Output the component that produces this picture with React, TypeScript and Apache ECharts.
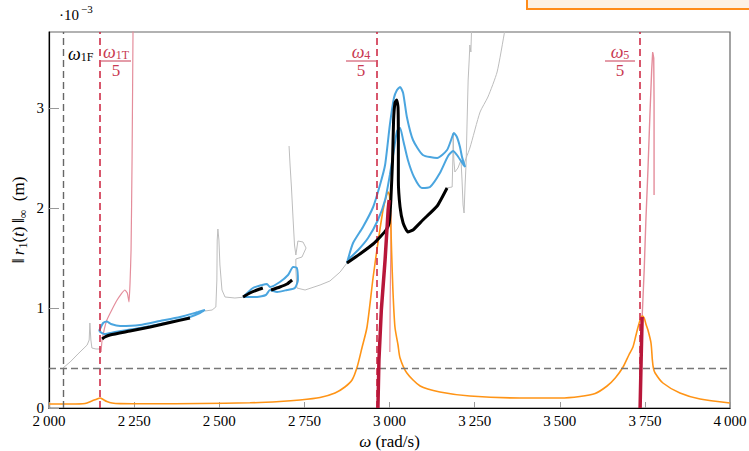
import React, { useEffect, useRef } from "react";
import * as echarts from "echarts";

// ---- data (x: rad/s, y: units of 1e-3 m) ----
const xTickValues = [2000, 2250, 2500, 2750, 3000, 3250, 3500, 3750, 4000];
const yTickValues = [0, 1, 2, 3];

const omega1F = 2041;
const modeFractions = [2150, 2963, 3736];
const threshold = 0.4;

const backboneA = [[2041,0.40],[2062,0.46],[2085,0.54],[2103,0.60],[2112,0.63],[2118,0.68],[2120,0.85],[2123,0.68],[2126,0.60],[2138,0.59],[2150,0.59]];
const backboneB = [[2458,0.97],[2479,0.98],[2490,1.01],[2493,1.28],[2494,1.68],[2496,1.79],[2499,1.68],[2502,1.43],[2508,1.18],[2517,1.11],[2546,1.10],[2576,1.11]];
const backboneC = [[2705,2.62],[2708,2.43],[2712,2.21],[2717,1.88],[2721,1.63],[2725,1.53],[2731,1.67],[2746,1.66],[2755,1.60],[2743,1.51],[2725,1.49],[2725,1.38],[2728,1.20],[2752,1.18],[2796,1.23],[2825,1.27],[2855,1.36],[2875,1.45]];
const backboneD = [[3166,2.20],[3184,2.21],[3186,2.48],[3187,2.75],[3189,2.48],[3192,2.36],[3201,2.40],[3210,2.48],[3213,2.28],[3216,2.03],[3219,1.95],[3222,2.23],[3225,2.45],[3228,2.88],[3231,3.28],[3234,3.48],[3236,3.63],[3239,3.56],[3242,3.90]];
const backboneE = [[3216,2.42],[3236,2.60],[3266,2.96],[3289,3.11],[3316,3.36],[3339,3.78],[3348,3.93]];

const unstableA = [[2153,0.56],[2156,0.68],[2170,0.88],[2200,1.08],[2223,1.18],[2230,1.15],[2235,1.06],[2238,1.25],[2241,1.58],[2244,2.5],[2247,3.9]];
const unstableB = [[3001,0.56],[3002,1.1],[3004,1.6],[3005,1.98]];
const unstableC = [[3742,0.91],[3748,1.38],[3753,1.88],[3759,2.38],[3765,2.95],[3770,3.38],[3773,3.56],[3776,3.50],[3777,3.08],[3777,2.13]];

const linearFRF = [[2000,0.04],[2062,0.04],[2106,0.045],[2126,0.07],[2141,0.09],[2150,0.10],[2159,0.085],[2170,0.065],[2185,0.05],[2209,0.044],[2297,0.042],[2443,0.045],[2590,0.052],[2678,0.065],[2737,0.08],[2796,0.105],[2840,0.15],[2869,0.21],[2890,0.28],[2905,0.41],[2919,0.60],[2934,0.81],[2952,1.31],[2966,1.65],[2981,1.98],[2990,2.11],[2996,2.16],[3000,2.12],[3003,1.93],[3006,1.58],[3010,1.18],[3016,0.81],[3025,0.63],[3031,0.50],[3051,0.35],[3090,0.22],[3148,0.16],[3236,0.12],[3383,0.10],[3501,0.10],[3559,0.115],[3604,0.145],[3639,0.22],[3663,0.30],[3686,0.41],[3703,0.53],[3715,0.61],[3724,0.73],[3730,0.81],[3736,0.88],[3742,0.92],[3748,0.90],[3753,0.84],[3759,0.78],[3768,0.65],[3772,0.48],[3775,0.40],[3780,0.35],[3803,0.25],[3853,0.15],[3912,0.09],[4000,0.05]];

const loop1Blue = [[2147,0.77],[2159,0.85],[2170,0.865],[2182,0.84],[2209,0.82],[2267,0.83],[2326,0.87],[2385,0.91],[2438,0.96],[2458,0.98],[2443,0.95],[2414,0.91],[2355,0.86],[2267,0.80],[2194,0.76],[2162,0.74],[2147,0.77]];
const loop1Black = [[2156,0.69],[2164,0.71],[2179,0.73],[2238,0.77],[2297,0.81],[2355,0.855],[2414,0.90]];
const loop2Blue = [[2570,1.11],[2599,1.20],[2626,1.23],[2640,1.24],[2649,1.21],[2678,1.26],[2702,1.33],[2717,1.41],[2728,1.40],[2731,1.28],[2722,1.20],[2699,1.18],[2670,1.16],[2649,1.18],[2637,1.13],[2611,1.11],[2570,1.11]];
const loop2BlackA = [[2570,1.11],[2590,1.15],[2611,1.18],[2628,1.20]];
const loop2BlackB = [[2652,1.18],[2678,1.21],[2699,1.24],[2714,1.28]];
const loop3Blue = [[2875,1.45],[2893,1.65],[2922,1.81],[2952,2.01],[2972,2.23],[2987,2.43],[3001,2.83],[3013,3.10],[3022,3.18],[3031,3.21],[3040,3.15],[3051,2.91],[3069,2.68],[3098,2.53],[3140,2.50],[3169,2.58],[3184,2.71],[3189,2.75],[3198,2.71],[3207,2.61],[3213,2.51],[3222,2.41],[3210,2.47],[3198,2.53],[3187,2.57],[3172,2.52],[3148,2.35],[3119,2.21],[3095,2.20],[3072,2.31],[3054,2.48],[3040,2.68],[3031,2.80],[3022,2.77],[3013,2.58],[3001,2.33],[2987,2.08],[2966,1.88],[2937,1.70],[2908,1.58],[2884,1.50],[2875,1.45]];
const loop3Black = [[2875,1.45],[2913,1.54],[2952,1.64],[2975,1.72],[2990,1.78],[2999,1.85],[3004,2.08],[3009,2.48],[3012,2.88],[3016,3.05],[3021,3.08],[3025,3.01],[3026,2.68],[3026,2.28],[3031,2.01],[3040,1.85],[3054,1.76],[3069,1.78],[3098,1.88],[3140,2.02],[3169,2.20]];

const resonanceA = [[2966,0],[2969,0.48],[2976,0.98],[2987,1.48],[2996,1.98],[2999,2.08]];
const resonanceB = [[3736,0],[3739,0.48],[3742,0.91]];

const FONT = "'Liberation Serif', 'DejaVu Serif', serif";
const RED = "#cc1f3d";
const RED_TXT = "#c93a52";

function line(data: number[][], color: string, width: number, z = 2, smooth: number | boolean = false) {
  return {
    type: "line",
    data,
    showSymbol: false,
    symbol: "none",
    smooth,
    lineStyle: { color, width },
    z,
    silent: true,
  };
}

function fmtX(v: number) {
  if (!xTickValues.includes(v)) return "";
  const th = Math.floor(v / 1000);
  const rest = String(v % 1000).padStart(3, "0");
  return th + "\u2009" + rest;
}

function fmtY(v: number) {
  return yTickValues.includes(v) ? String(v) : "";
}

const fracLabel = (cx: number, sub: string) => [
  {
    type: "text",
    x: cx,
    y: 52,
    style: {
      text: "{i|ω}{s|" + sub + "}",
      align: "center",
      verticalAlign: "middle",
      fill: RED_TXT,
      rich: {
        i: { fontFamily: FONT, fontStyle: "italic", fontSize: 18, fill: RED_TXT, lineHeight: 18 },
        s: { fontFamily: FONT, fontSize: 12, fill: RED_TXT, verticalAlign: "bottom", lineHeight: 12 },
      },
    },
  },
  { type: "line", shape: { x1: cx - 15, y1: 61, x2: cx + 15, y2: 61 }, style: { stroke: RED_TXT, lineWidth: 1 } },
  {
    type: "text",
    x: cx,
    y: 70,
    style: { text: "5", align: "center", verticalAlign: "middle", fill: RED_TXT, fontFamily: FONT, fontSize: 17 },
  },
];

export default function App() {
  const ref = useRef<HTMLDivElement>(null);
  useEffect(() => {
    document.body.style.margin = "0";
    const chart = echarts.init(ref.current!, null, { renderer: "svg" });
    const option: any = {
      animation: false,
      backgroundColor: "#ffffff",
      textStyle: { fontFamily: FONT },
      grid: {
        left: 49, right: 19, top: 32, bottom: 43,
        outerBoundsMode: "none",
        containLabel: false,
        show: true, borderColor: "#666", borderWidth: 1.2, backgroundColor: "transparent",
      },
      xAxis: {
        type: "value",
        min: 2000,
        max: 4000,
        interval: 250,
        axisLine: { show: true, onZero: false, lineStyle: { color: "#000", width: 1.2 } },
        axisTick: { show: true, inside: true, length: 6, lineStyle: { color: "#999" } },
        axisLabel: { margin: 6, color: "#000", fontFamily: FONT, fontSize: 15, lineHeight: 13, formatter: (v: number) => fmtX(v) },
        splitLine: { show: false },
        name: "{i|ω}{n| (rad/s)}",
        nameLocation: "middle",
        nameGap: 19,
        nameTextStyle: {
          fontFamily: FONT,
          fontSize: 17,
          rich: {
            i: { fontFamily: FONT, fontStyle: "italic", fontSize: 17, color: "#000", lineHeight: 18 },
            n: { fontFamily: FONT, fontSize: 17, color: "#000", lineHeight: 18 },
          },
        },
      },
      yAxis: {
        type: "value",
        min: 0,
        max: 3.76,
        interval: 1,
        axisLine: { show: true, onZero: false, lineStyle: { color: "#000", width: 1.2 } },
        axisTick: { show: true, inside: true, length: 10, lineStyle: { color: "#999" } },
        axisLabel: { margin: 5, color: "#000", fontFamily: FONT, fontSize: 15, lineHeight: 11, showMaxLabel: false, formatter: (v: number) => fmtY(v) },
        splitLine: { show: false },
      },
      series: [
        line(backboneA, "#bdbdbd", 1),
        line(backboneB, "#bdbdbd", 1),
        line(backboneC, "#bdbdbd", 1),
        line(backboneD, "#bdbdbd", 1),
        line(backboneE, "#bdbdbd", 1, 2, 0.2),
        line(unstableA, "#e48d9b", 1.2, 2, 0.15),
        line(unstableB, "#e48d9b", 1.2),
        line(unstableC, "#e48d9b", 1.4),
        line(linearFRF, "#ff9416", 1.6, 2, 0.25),
        {
          type: "line",
          data: [],
          z: 3,
          markLine: {
            silent: true,
            symbol: "none",
            label: { show: false },
            animation: false,
            data: [
              { xAxis: omega1F, lineStyle: { color: "#666", width: 1.4, type: [7, 4] } },
              ...modeFractions.map((f) => ({ xAxis: f, lineStyle: { color: RED, width: 1.5, type: [7, 4] } })),
              { yAxis: threshold, lineStyle: { color: "#777", width: 1.4, type: [7, 4] } },
            ],
          },
        },
        line(loop1Blue, "#4aa5df", 2, 4, 0.2),
        line(loop2Blue, "#4aa5df", 2, 4, 0.2),
        line(loop3Blue, "#4aa5df", 2, 4, 0.2),
        line(loop1Black, "#000", 3, 5, 0.2),
        line(loop2BlackA, "#000", 3, 5, 0.2),
        line(loop2BlackB, "#000", 3, 5, 0.2),
        line(loop3Black, "#000", 3, 5, 0.15),
        line(resonanceA, "#b8173a", 3.5, 6),
        line(resonanceB, "#b8173a", 3.5, 6),
      ],
      graphic: [
        {
          type: "rect",
          shape: { x: 527, y: -20, width: 240, height: 29 },
          style: { fill: "#fdf1e4", stroke: "#ff8c1a", lineWidth: 2 },
          z: 10,
        },
        { type: "text", x: 59, y: 15, style: { text: "·10", verticalAlign: "middle", fontFamily: FONT, fontSize: 15, fill: "#000" } },
        { type: "text", x: 81, y: 9, style: { text: "−3", verticalAlign: "middle", fontFamily: FONT, fontSize: 11, fill: "#000" } },
        {
          type: "text",
          x: 18,
          y: 220,
          rotation: Math.PI / 2,
          style: {
            text: "{n|‖\u2009}{i|r}{s|1}{n|(}{i|t}{n|)\u2009‖}{s|∞}{n|\u2002(m)}",
            align: "center",
            verticalAlign: "middle",
            rich: {
              n: { fontFamily: FONT, fontSize: 17, fill: "#000", lineHeight: 22 },
              i: { fontFamily: FONT, fontStyle: "italic", fontSize: 17, fill: "#000", lineHeight: 22 },
              s: { fontFamily: FONT, fontSize: 12, fill: "#000", verticalAlign: "bottom", lineHeight: 13 },
            },
          },
        },
        {
          type: "text",
          x: 68,
          y: 54,
          style: {
            text: "{i|ω}{s|1F}",
            verticalAlign: "middle",
            rich: {
              i: { fontFamily: FONT, fontStyle: "italic", fontSize: 18, fill: "#000", lineHeight: 18 },
              s: { fontFamily: FONT, fontSize: 12, fill: "#000", verticalAlign: "bottom", lineHeight: 12 },
            },
          },
        },
        ...fracLabel(116, "1T"),
        ...fracLabel(361, "4"),
        ...fracLabel(620, "5"),
      ],
    };
    chart.setOption(option);
    return () => chart.dispose();
  }, []);
  return <div ref={ref} style={{ position: "fixed", left: 0, top: 0, width: 749, height: 451 }} />;
}
